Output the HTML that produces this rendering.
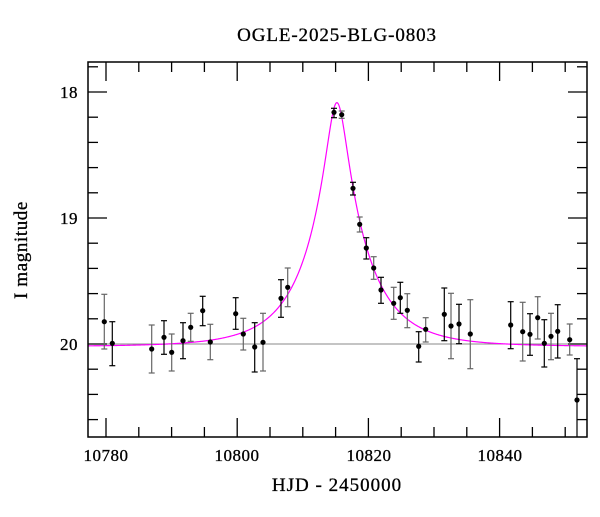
<!DOCTYPE html>
<html><head><meta charset="utf-8"><style>
body{margin:0;background:#fff;}
svg text{font-family:"Liberation Serif",serif;fill:#000;stroke:#000;stroke-width:0.3;}
</style></head><body>
<svg id="s" width="600" height="512" xmlns="http://www.w3.org/2000/svg">
<rect width="600" height="512" fill="#fff"/>
<text x="337" y="41" font-size="19" letter-spacing="0.9" text-anchor="middle">OGLE-2025-BLG-0803</text>
<text x="337" y="491" font-size="19" letter-spacing="1" text-anchor="middle">HJD - 2450000</text>
<text transform="translate(27,250) rotate(-90)" font-size="19" letter-spacing="0.6" text-anchor="middle">I magnitude</text>
<g font-size="17" text-anchor="middle" letter-spacing="0.5">
<text x="106" y="461">10780</text><text x="237" y="461">10800</text>
<text x="369" y="461">10820</text><text x="500" y="461">10840</text>
</g>
<g font-size="17" text-anchor="end" letter-spacing="0.5">
<text x="78" y="98">18</text><text x="78" y="224">19</text><text x="78" y="350">20</text>
</g>
<line x1="88" y1="344" x2="587" y2="344" stroke="#888" stroke-width="1"/>
<g id="ax" stroke="#000" stroke-width="1.3" fill="none"></g>
<path id="model" fill="none" stroke="#f0f" stroke-width="1.2"/>
<g id="pts"></g>
<rect x="88" y="62" width="499" height="375" fill="none" stroke="#000" stroke-width="1.5"/>
</svg>
<script>
var L=88,R=587,T=62,B=437;
function X(d){return 106+(d-10780)*6.56;}
function Y(m){return 92+(m-18)*126;}
var ax=document.getElementById('ax'),h='';
for(var d=10775;d<=10855;d+=5){var x=X(d);if(x<L||x>R)continue;var len=(d%20==0)?19:10;
h+='<line x1="'+x+'" y1="'+B+'" x2="'+x+'" y2="'+(B-len)+'"/><line x1="'+x+'" y1="'+T+'" x2="'+x+'" y2="'+(T+len)+'"/>';}
for(var i=0;i<=15;i++){var m=17.8+i*0.2;var y=Y(m);if(y<T||y>B)continue;var len=(Math.abs(m-Math.round(m))<0.01)?19:10;
h+='<line x1="'+L+'" y1="'+y+'" x2="'+(L+len)+'" y2="'+y+'"/><line x1="'+R+'" y1="'+y+'" x2="'+(R-len)+'" y2="'+y+'"/>';}
ax.innerHTML=h;
var p='',t0=10815.2,tE=8.9,u0=0.17,base=20.02;
for(var x=L;x<=R;x+=0.5){var t=10780+(x-106)/6.56;var tau=(t-t0)/tE;var u=Math.sqrt(u0*u0+tau*tau);
var A=(u*u+2)/(u*Math.sqrt(u*u+4));var m=base-2.5*Math.log10(A);p+=(p?'L':'M')+x.toFixed(1)+','+Y(m).toFixed(2);}
document.getElementById('model').setAttribute('d',p);
var D=[[104.3,321.7,294.3,349],[112.3,343.3,321.7,365.7],[151.7,349,325,373],[164,337.3,320.7,354.3],[171.7,352.3,334,371],
[183,340.7,322.7,358.7],[190.7,327.3,313.3,341.3],[202.7,310.7,296.3,325.7],[210.3,342,324.3,359.7],[235.7,313.7,297.7,329.3],
[243.3,334,318.3,350],[254.7,347,322.7,372],[263,342.3,313.3,371],[281,298.3,279.7,317.3],[287.7,287.3,268,306.7],
[334,112.3,108.3,117.7],[341.7,114.7,111,118.3],[353,188.3,182.3,195],[359.7,224.3,217,232],[366.3,248,237.7,259],
[373.7,268,256.7,279.3],[381,290,277.3,303.3],[393.7,303.3,287.3,319.3],[400.3,297.7,282.3,313.3],[407.3,310.3,293.7,327.7],
[418.7,346.3,331.7,362],[425.7,329.3,317.7,342],[444.3,314.3,288,340.7],[451,326,293.3,358.7],[459,324,304.3,343.7],
[470.3,334,299.7,368.7],[510.7,325,301.7,348.7],[522.7,331.7,302.3,361],[530,334.3,313.7,355.3],[537.7,317.7,296.7,339],
[544.3,343.3,319.7,367],[551,336.3,313.3,359.7],[557.7,331.3,304.7,358],[569.7,339.7,324,355],[577,400,358.7,437]];
var g='';
D.forEach(function(a,i){var c=(i%2)?'#000':'#666';
g+='<line x1="'+a[0]+'" y1="'+a[2]+'" x2="'+a[0]+'" y2="'+a[3]+'" stroke="'+c+'" stroke-width="1.2"/>';
g+='<line x1="'+(a[0]-3)+'" y1="'+a[2]+'" x2="'+(a[0]+3)+'" y2="'+a[2]+'" stroke="'+c+'" stroke-width="1.2"/>';
if(a[3]<436)g+='<line x1="'+(a[0]-3)+'" y1="'+a[3]+'" x2="'+(a[0]+3)+'" y2="'+a[3]+'" stroke="'+c+'" stroke-width="1.2"/>';
g+='<circle cx="'+a[0]+'" cy="'+a[1]+'" r="2.6" fill="#000"/>';});
document.getElementById('pts').innerHTML=g;
</script>
</body></html>
